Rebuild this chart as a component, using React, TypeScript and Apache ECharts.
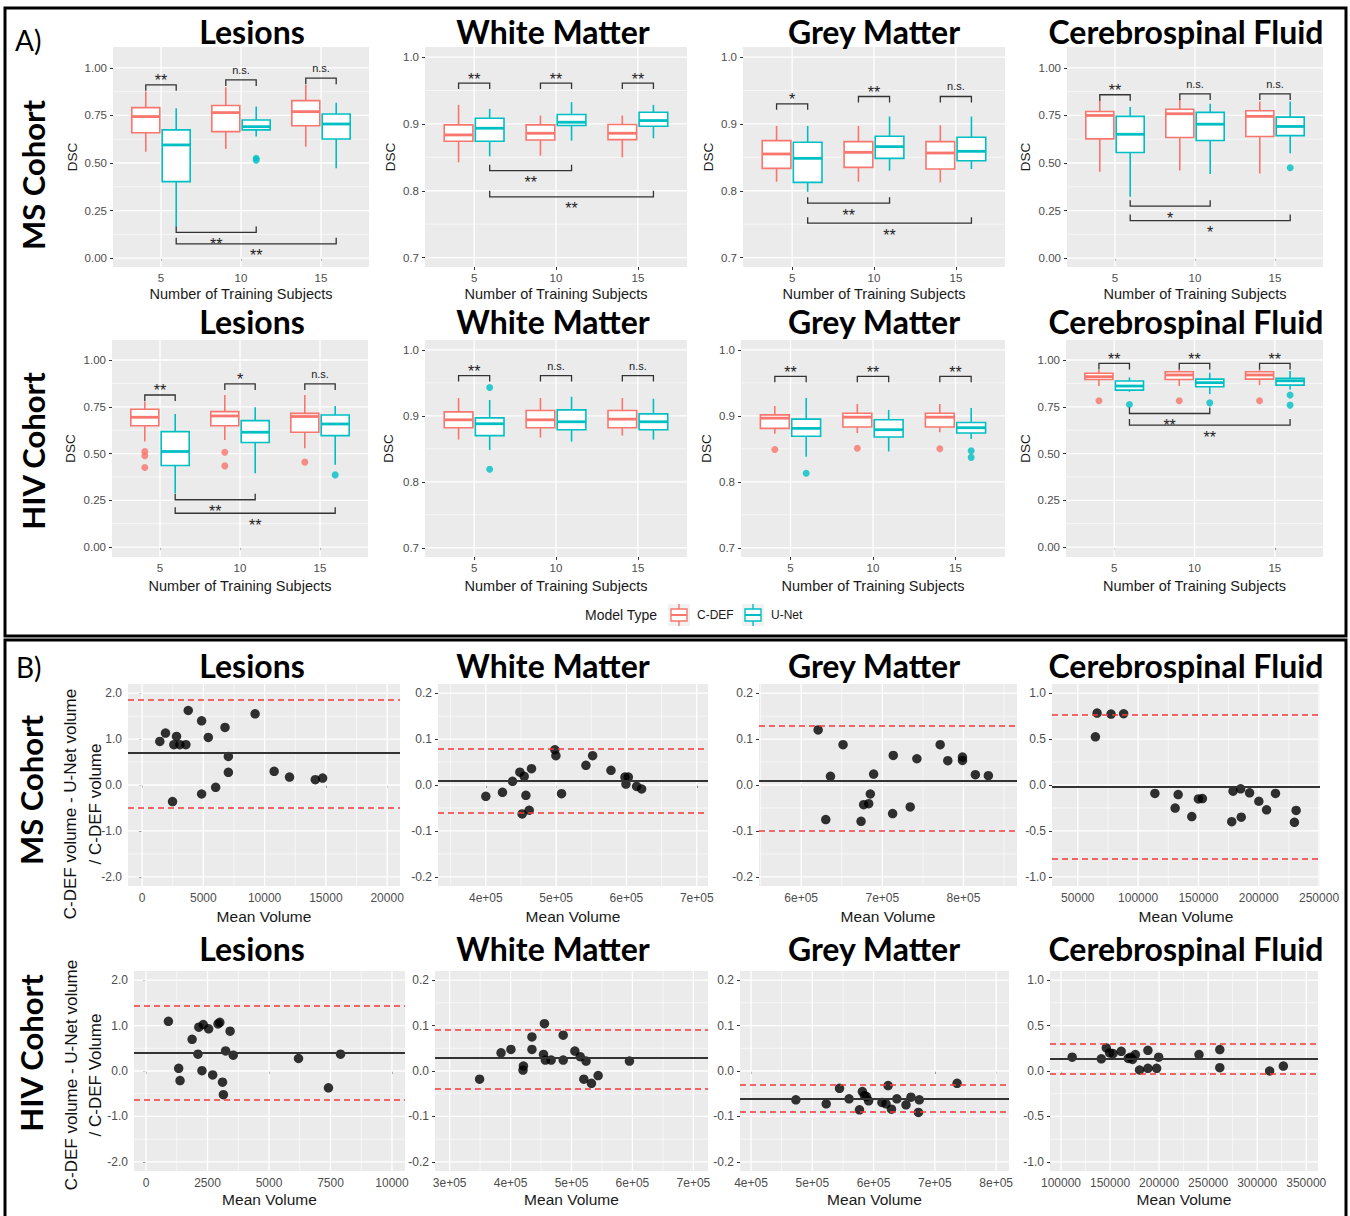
import React, { useEffect, useRef } from 'react';
import * as echarts from 'echarts';

// ---------------- shared ticks / categories ----------------
const trainSizes = [5, 10, 15];
const modelNames = ['C-DEF', 'U-Net'];
const dscTicksWide = [0, 0.25, 0.5, 0.75, 1.0];
const dscTicksNarrow = [0.7, 0.8, 0.9, 1.0];

// ---------------- A) DSC boxplots: [min, Q1, median, Q3, max] at 5 / 10 / 15 subjects ----------------
const msLesionsCdef = [[0.559, 0.659, 0.744, 0.791, 0.876], [0.574, 0.665, 0.765, 0.802, 0.898], [0.586, 0.696, 0.770, 0.828, 0.911]];
const msLesionsUnet = [[0.165, 0.402, 0.595, 0.674, 0.788], [0.639, 0.674, 0.691, 0.726, 0.797], [0.472, 0.626, 0.705, 0.758, 0.817]];
const msLesionsCdefOut: number[][] = [];
const msLesionsUnetOut = [[10, 0.525], [10, 0.515]];
const msLesionsSigY = [0.911, 0.937, 0.946];
const msLesionsSig = ['**', 'n.s.', 'n.s.'];
const msLesionsCrossY = [0.135, 0.075];
const msLesionsCross = ['**', '**'];

const msWmCdef = [[0.8425, 0.874, 0.8835, 0.8985, 0.9285], [0.8525, 0.876, 0.886, 0.8985, 0.9125], [0.85, 0.8765, 0.886, 0.899, 0.9125]];
const msWmUnet = [[0.8515, 0.874, 0.8935, 0.9085, 0.9225], [0.875, 0.8975, 0.9025, 0.914, 0.9325], [0.8785, 0.8965, 0.905, 0.9175, 0.9285]];
const msWmCdefOut: number[][] = [];
const msWmUnetOut: number[][] = [];
const msWmSigY = [0.961, 0.961, 0.961];
const msWmSig = ['**', '**', '**'];
const msWmCrossY = [0.83, 0.791];
const msWmCross = ['**', '**'];

const msGmCdef = [[0.8135, 0.8335, 0.855, 0.875, 0.897], [0.8135, 0.835, 0.8575, 0.8735, 0.897], [0.8125, 0.8325, 0.8565, 0.8735, 0.898]];
const msGmUnet = [[0.7985, 0.8125, 0.8485, 0.8725, 0.897], [0.83, 0.8485, 0.866, 0.8815, 0.911], [0.8325, 0.845, 0.859, 0.88, 0.911]];
const msGmCdefOut: number[][] = [];
const msGmUnetOut: number[][] = [];
const msGmSigY = [0.93, 0.941, 0.941];
const msGmSig = ['*', '**', 'n.s.'];
const msGmCrossY = [0.7815, 0.7515];
const msGmCross = ['**', '**'];

const msCsfCdef = [[0.454, 0.627, 0.75, 0.771, 0.833], [0.46, 0.634, 0.759, 0.783, 0.836], [0.445, 0.639, 0.745, 0.775, 0.824]];
const msCsfUnet = [[0.322, 0.555, 0.651, 0.745, 0.794], [0.442, 0.618, 0.704, 0.766, 0.812], [0.551, 0.644, 0.692, 0.741, 0.824]];
const msCsfCdefOut: number[][] = [];
const msCsfUnetOut = [[15, 0.475]];
const msCsfSigY = [0.859, 0.863, 0.863];
const msCsfSig = ['**', 'n.s.', 'n.s.'];
const msCsfCrossY = [0.273, 0.197];
const msCsfCross = ['*', '*'];

const hivLesionsCdef = [[0.564, 0.649, 0.694, 0.737, 0.778], [0.573, 0.649, 0.701, 0.724, 0.813], [0.528, 0.614, 0.698, 0.715, 0.813]];
const hivLesionsUnet = [[0.288, 0.436, 0.511, 0.617, 0.712], [0.395, 0.559, 0.614, 0.676, 0.747], [0.44, 0.596, 0.658, 0.706, 0.754]];
const hivLesionsCdefOut = [[5, 0.511], [5, 0.488], [5, 0.425], [10, 0.507], [10, 0.434], [15, 0.454]];
const hivLesionsUnetOut = [[15, 0.386]];
const hivLesionsSigY = [0.813, 0.872, 0.872];
const hivLesionsSig = ['**', '*', 'n.s.'];
const hivLesionsCrossY = [0.253, 0.181];
const hivLesionsCross = ['**', '**'];

const hivWmCdef = [[0.864, 0.882, 0.894, 0.906, 0.927], [0.867, 0.882, 0.894, 0.908, 0.927], [0.870, 0.882, 0.895, 0.908, 0.927]];
const hivWmUnet = [[0.848, 0.870, 0.888, 0.897, 0.924], [0.861, 0.879, 0.891, 0.909, 0.929], [0.864, 0.879, 0.891, 0.903, 0.926]];
const hivWmCdefOut: number[][] = [];
const hivWmUnetOut = [[5, 0.943], [5, 0.819]];
const hivWmSigY = [0.961, 0.961, 0.961];
const hivWmSig = ['**', 'n.s.', 'n.s.'];
const hivWmCrossY: number[] = [];
const hivWmCross: string[] = [];

const hivGmCdef = [[0.873, 0.881, 0.8965, 0.9015, 0.915], [0.874, 0.883, 0.898, 0.904, 0.918], [0.875, 0.883, 0.898, 0.904, 0.918]];
const hivGmUnet = [[0.838, 0.869, 0.881, 0.895, 0.927], [0.846, 0.868, 0.879, 0.894, 0.909], [0.865, 0.874, 0.882, 0.890, 0.912]];
const hivGmCdefOut = [[5, 0.849], [10, 0.851], [15, 0.85]];
const hivGmUnetOut = [[5, 0.813], [15, 0.847], [15, 0.837]];
const hivGmSigY = [0.96, 0.96, 0.96];
const hivGmSig = ['**', '**', '**'];
const hivGmCrossY: number[] = [];
const hivGmCross: string[] = [];

const hivCsfCdef = [[0.861, 0.896, 0.911, 0.929, 0.946], [0.861, 0.896, 0.92, 0.9375, 0.95], [0.866, 0.898, 0.92, 0.9375, 0.95]];
const hivCsfUnet = [[0.83, 0.839, 0.861, 0.888, 0.907], [0.818, 0.857, 0.879, 0.898, 0.932], [0.843, 0.866, 0.889, 0.902, 0.941]];
const hivCsfCdefOut = [[5, 0.782], [10, 0.782], [15, 0.782]];
const hivCsfUnetOut = [[5, 0.762], [10, 0.771], [15, 0.8125], [15, 0.759]];
const hivCsfSigY = [0.982, 0.982, 0.982];
const hivCsfSig = ['**', '**', '**'];
const hivCsfCrossY = [0.714, 0.652];
const hivCsfCross = ['**', '**'];

// ---------------- B) Bland-Altman: [mean volume, relative difference] ----------------
const msLesionsBA = [[1446, 0.949], [1910, 1.13], [2484, -0.362], [2593, 0.877], [2811, 1.058], [3084, 0.877], [3575, 0.877], [3766, 1.623], [4858, 1.399], [4858, -0.196], [5403, 1.036], [6004, -0.051], [6768, 1.254], [7041, 0.623], [7041, 0.275], [9224, 1.551], [10779, 0.297], [12035, 0.174], [14136, 0.116], [14736, 0.152]];
const msWmBA = [[400000, -0.0246], [423700, -0.016], [438000, 0.008], [448400, 0.028], [454600, 0.019], [465000, 0.0355], [457000, -0.0225], [451700, -0.063], [461700, -0.055], [498200, 0.0768], [499700, 0.0638], [507700, -0.0188], [542400, 0.0428], [551900, 0.0638], [578000, 0.0319], [597900, 0.0174], [602700, 0.0174], [599300, 0.002], [614500, -0.003], [621600, -0.0087]];
const msGmBA = [[620900, 0.12], [651600, 0.0877], [636100, 0.0188], [630300, -0.0754], [673800, -0.079], [677000, -0.0428], [683200, -0.0406], [685200, -0.0196], [689300, 0.0239], [713500, 0.0645], [712700, -0.0623], [734400, -0.0478], [742600, 0.0572], [771300, 0.0877], [780700, 0.0529], [798800, 0.0609], [798800, 0.0536], [814700, 0.0225], [830700, 0.0203]];
const msCsfBA = [[64600, 0.525], [66000, 0.784], [77550, 0.773], [88000, 0.776], [113900, -0.092], [130700, -0.251], [133200, -0.104], [144500, -0.344], [150000, -0.152], [153300, -0.148], [177600, -0.399], [178700, -0.067], [185000, -0.041], [185500, -0.351], [192400, -0.085], [200100, -0.177], [206500, -0.27], [213900, -0.092], [229600, -0.407], [231000, -0.277]];
const hivLesionsBA = [[909, 1.094], [1327, 0.058], [1382, -0.21], [1873, 0.696], [2109, 0.37], [2145, 0.964], [2273, 0.007], [2327, 1.022], [2545, 0.928], [2709, -0.087], [2927, 1.036], [3000, 1.072], [3109, -0.246], [3145, -0.522], [3236, 0.442], [3418, 0.877], [3545, 0.348], [6200, 0.275], [7418, -0.37], [7909, 0.37]];
const hivWmBA = [[349200, -0.018], [384400, 0.04], [400600, 0.0474], [421100, 0.011], [420400, 0.002], [435100, 0.075], [435100, 0.0474], [455600, 0.104], [454100, 0.0365], [457100, 0.024], [466600, 0.024], [486400, 0.0788], [486400, 0.024], [505500, 0.0438], [514300, 0.0314], [523900, 0.0219], [520200, -0.018], [532700, -0.027], [543700, -0.01], [595100, 0.0219]];
const hivGmBA = [[473200, -0.0635], [522700, -0.0723], [544400, -0.038], [560000, -0.0613], [577000, -0.0854], [581700, -0.0453], [585100, -0.054], [588500, -0.0562], [591900, -0.0657], [613600, -0.0693], [620300, -0.0723], [623700, -0.0321], [629200, -0.0839], [638000, -0.0613], [652900, -0.0745], [661000, -0.0577], [673200, -0.0912], [674600, -0.0635], [736300, -0.027]];
const hivCsfBA = [[111400, 0.152], [141100, 0.134], [146200, 0.254], [149600, 0.199], [153000, 0.192], [161400, 0.217], [168600, 0.138], [170800, 0.152], [172900, 0.127], [175800, 0.181], [180100, 0.011], [188600, 0.228], [188600, 0.029], [197500, 0.029], [199600, 0.152], [240700, 0.181], [261900, 0.236], [261900, 0.036], [312700, 0.0], [326700, 0.054]];

// [mean difference, upper limit, lower limit]
const msLesionsLoA = [0.696, 1.855, -0.486];
const msWmLoA = [0.0101, 0.0826, -0.063];
const msGmLoA = [0.0138, 0.1297, -0.1043];
const msCsfLoA = [-0.0185, 0.758, -0.795];
const hivLesionsLoA = [0.406, 1.442, -0.63];
const hivWmLoA = [0.0277, 0.0934, -0.0387];
const hivGmLoA = [-0.0613, -0.0292, -0.0942];
const hivCsfLoA = [0.138, 0.297, -0.025];

// axis ticks for B
const baLesionsYTicks = [-2, -1, 0, 1, 2];
const baTissueYTicks = [-0.2, -0.1, 0, 0.1, 0.2];
const baCsfYTicks = [-1, -0.5, 0, 0.5, 1];
const msLesionsXTicks = [0, 5000, 10000, 15000, 20000];
const msWmXTicks = [400000, 500000, 600000, 700000];
const msGmXTicks = [600000, 700000, 800000];
const msCsfXTicks = [50000, 100000, 150000, 200000, 250000];
const hivLesionsXTicks = [0, 2500, 5000, 7500, 10000];
const hivWmXTicks = [300000, 400000, 500000, 600000, 700000];
const hivGmXTicks = [400000, 500000, 600000, 700000, 800000];
const hivCsfXTicks = [100000, 150000, 200000, 250000, 300000, 350000];

const panelTitles = ['Lesions', 'White Matter', 'Grey Matter', 'Cerebrospinal Fluid'];

// ---------------- style / layout ----------------
const FONT = "'Liberation Sans', Arial, sans-serif";
const HEAD = "Lato, 'Open Sans', sans-serif";
const RED = '#F8766D';
const TEAL = '#00BFC4';
const PANEL_BG = '#EBEBEB';
const DODGE = 0.95;
const BOX_W = 1.75;
const TITLE_X = [252, 553, 874, 1186];

const fmt2 = (v: number) => v.toFixed(2);
const fmt1 = (v: number) => v.toFixed(1);
const fmtPlain = (v: number) => String(Math.round(v));
const fmtSci = (v: number) => `${Math.round(v / 1e5)}e+05`;

const boxPanels = [
  { rect: [113, 47, 256, 220], y: [-0.047, 1.11], ticks: dscTicksWide, fmt: fmt2, cdef: msLesionsCdef, unet: msLesionsUnet, cdefOut: msLesionsCdefOut, unetOut: msLesionsUnetOut, sigY: msLesionsSigY, sig: msLesionsSig, crossY: msLesionsCrossY, cross: msLesionsCross, dscX: 72 },
  { rect: [425, 47, 262, 220], y: [0.686, 1.015], ticks: dscTicksNarrow, fmt: fmt1, cdef: msWmCdef, unet: msWmUnet, cdefOut: msWmCdefOut, unetOut: msWmUnetOut, sigY: msWmSigY, sig: msWmSig, crossY: msWmCrossY, cross: msWmCross, dscX: 390 },
  { rect: [743, 47, 262, 220], y: [0.686, 1.015], ticks: dscTicksNarrow, fmt: fmt1, cdef: msGmCdef, unet: msGmUnet, cdefOut: msGmCdefOut, unetOut: msGmUnetOut, sigY: msGmSigY, sig: msGmSig, crossY: msGmCrossY, cross: msGmCross, dscX: 708 },
  { rect: [1067, 47, 256, 220], y: [-0.047, 1.11], ticks: dscTicksWide, fmt: fmt2, cdef: msCsfCdef, unet: msCsfUnet, cdefOut: msCsfCdefOut, unetOut: msCsfUnetOut, sigY: msCsfSigY, sig: msCsfSig, crossY: msCsfCrossY, cross: msCsfCross, dscX: 1025 },
  { rect: [112, 340, 256, 217], y: [-0.053, 1.107], ticks: dscTicksWide, fmt: fmt2, cdef: hivLesionsCdef, unet: hivLesionsUnet, cdefOut: hivLesionsCdefOut, unetOut: hivLesionsUnetOut, sigY: hivLesionsSigY, sig: hivLesionsSig, crossY: hivLesionsCrossY, cross: hivLesionsCross, dscX: 70 },
  { rect: [425, 340, 262, 217], y: [0.686, 1.015], ticks: dscTicksNarrow, fmt: fmt1, cdef: hivWmCdef, unet: hivWmUnet, cdefOut: hivWmCdefOut, unetOut: hivWmUnetOut, sigY: hivWmSigY, sig: hivWmSig, crossY: hivWmCrossY, cross: hivWmCross, dscX: 388 },
  { rect: [741, 340, 264, 217], y: [0.686, 1.015], ticks: dscTicksNarrow, fmt: fmt1, cdef: hivGmCdef, unet: hivGmUnet, cdefOut: hivGmCdefOut, unetOut: hivGmUnetOut, sigY: hivGmSigY, sig: hivGmSig, crossY: hivGmCrossY, cross: hivGmCross, dscX: 706 },
  { rect: [1066, 340, 257, 217], y: [-0.053, 1.107], ticks: dscTicksWide, fmt: fmt2, cdef: hivCsfCdef, unet: hivCsfUnet, cdefOut: hivCsfCdefOut, unetOut: hivCsfUnetOut, sigY: hivCsfSigY, sig: hivCsfSig, crossY: hivCsfCrossY, cross: hivCsfCross, dscX: 1025 },
];

const baPanels = [
  { rect: [128, 684, 272, 202], x: [-1150, 21050], y: [-2.2, 2.2], xTicks: msLesionsXTicks, yTicks: baLesionsYTicks, xFmt: fmtPlain, pts: msLesionsBA, loa: msLesionsLoA },
  { rect: [438, 684, 270, 202], x: [332000, 716000], y: [-0.22, 0.22], xTicks: msWmXTicks, yTicks: baTissueYTicks, xFmt: fmtSci, pts: msWmBA, loa: msWmLoA },
  { rect: [759, 684, 258, 202], x: [548000, 866000], y: [-0.22, 0.22], xTicks: msGmXTicks, yTicks: baTissueYTicks, xFmt: fmtSci, pts: msGmBA, loa: msGmLoA },
  { rect: [1052, 684, 268, 202], x: [28600, 250800], y: [-1.1, 1.1], xTicks: msCsfXTicks, yTicks: baCsfYTicks, xFmt: fmtPlain, pts: msCsfBA, loa: msCsfLoA },
  { rect: [134, 971, 271, 200], x: [-490, 10530], y: [-2.2, 2.2], xTicks: hivLesionsXTicks, yTicks: baLesionsYTicks, xFmt: fmtPlain, pts: hivLesionsBA, loa: hivLesionsLoA },
  { rect: [435, 971, 273, 200], x: [276000, 724000], y: [-0.22, 0.22], xTicks: hivWmXTicks, yTicks: baTissueYTicks, xFmt: fmtSci, pts: hivWmBA, loa: hivWmLoA },
  { rect: [740, 971, 269, 200], x: [382000, 821000], y: [-0.22, 0.22], xTicks: hivGmXTicks, yTicks: baTissueYTicks, xFmt: fmtSci, pts: hivGmBA, loa: hivGmLoA },
  { rect: [1050, 971, 268, 200], x: [88800, 362000], y: [-1.1, 1.1], xTicks: hivCsfXTicks, yTicks: baCsfYTicks, xFmt: fmtPlain, pts: hivCsfBA, loa: hivCsfLoA },
];

// minor grid positions: midpoints between major ticks (and half a step beyond), inside the range
function minorsOf(majors: number[], min: number, max: number) {
  if (majors.length < 2) return [];
  const step = majors[1] - majors[0];
  const out: number[] = [];
  const cands = [majors[0] - step / 2, ...majors.map((m) => m + step / 2)];
  cands.forEach((c) => { if (c > min && c < max) out.push(+c.toFixed(6)); });
  return out;
}

function makeAxis(gridIndex: number, min: number, max: number, ticks: number[], fmt: any, fontSize: number, margin: number) {
  return {
    type: 'value', gridIndex, min, max,
    axisLine: { show: false },
    splitLine: { show: false },
    minorSplitLine: { show: false },
    axisTick: { show: true, customValues: ticks, length: 3, lineStyle: { color: '#333', width: 1 } },
    axisLabel: { show: true, customValues: ticks, formatter: fmt, color: '#4D4D4D', fontSize, fontFamily: FONT, margin },
  };
}

function gridLineSeries(i: number, xr: number[], yr: number[], xMaj: number[], xMin: number[], yMaj: number[], yMin: number[]) {
  const data = [
    ...yMaj.map((v) => [0, v, 1]), ...yMin.map((v) => [0, v, 0]),
    ...xMaj.map((v) => [1, v, 1]), ...xMin.map((v) => [1, v, 0]),
  ];
  return {
    type: 'custom', xAxisIndex: i, yAxisIndex: i, silent: true, z: 1, data,
    encode: { x: 1, y: 1 },
    renderItem: (params: any, api: any) => {
      const cs = params.coordSys;
      const o = api.value(0), v = api.value(1), major = api.value(2);
      const lw = major ? 1.3 : 0.6;
      if (o === 0) {
        const y = api.coord([xr[0], v])[1];
        return { type: 'line', shape: { x1: cs.x, y1: y, x2: cs.x + cs.width, y2: y }, style: { stroke: '#fff', lineWidth: lw } };
      }
      const x = api.coord([v, yr[0]])[0];
      return { type: 'line', shape: { x1: x, y1: cs.y, x2: x, y2: cs.y + cs.height }, style: { stroke: '#fff', lineWidth: lw } };
    },
  };
}

function boxRenderer(color: string, shift: number) {
  return (params: any, api: any) => {
    const x = api.value(0) + shift;
    const pLo = api.coord([x, api.value(1)]);
    const pQ1 = api.coord([x, api.value(2)]);
    const pMed = api.coord([x, api.value(3)]);
    const pQ3 = api.coord([x, api.value(4)]);
    const pHi = api.coord([x, api.value(5)]);
    const hw = api.size([BOX_W, 0])[0] / 2;
    const ls = { stroke: color, lineWidth: 1.6 };
    return {
      type: 'group',
      children: [
        { type: 'line', shape: { x1: pLo[0], y1: pLo[1], x2: pQ1[0], y2: pQ1[1] }, style: ls },
        { type: 'line', shape: { x1: pQ3[0], y1: pQ3[1], x2: pHi[0], y2: pHi[1] }, style: ls },
        { type: 'rect', shape: { x: pQ3[0] - hw, y: pQ3[1], width: hw * 2, height: pQ1[1] - pQ3[1] }, style: { fill: '#fff', stroke: color, lineWidth: 1.6 } },
        { type: 'line', shape: { x1: pMed[0] - hw, y1: pMed[1], x2: pMed[0] + hw, y2: pMed[1] }, style: { stroke: color, lineWidth: 2.8 } },
      ],
    };
  };
}

function textStyle(text: string, font: string, align: string, vAlign: string, fill = '#111') {
  return { text, font, fill, align, verticalAlign: vAlign, textAlign: align, textVerticalAlign: vAlign };
}

function bracketRenderer(labels: string[]) {
  return (params: any, api: any) => {
    const a = api.coord([api.value(0), api.value(2)]);
    const b = api.coord([api.value(1), api.value(2)]);
    const dir = api.value(3);
    const tick = 6 * dir;
    const label = labels[params.dataIndex];
    const star = label.indexOf('*') >= 0;
    const cx = (a[0] + b[0]) / 2;
    let ty: number;
    if (dir > 0) ty = star ? a[1] - 4 : a[1] - 10;
    else ty = a[1] + 12;
    const font = star ? `16px ${FONT}` : `11px ${FONT}`;
    return {
      type: 'group',
      children: [
        { type: 'polyline', shape: { points: [[a[0], a[1] + tick], [a[0], a[1]], [b[0], b[1]], [b[0], b[1] + tick]] }, style: { stroke: '#333', lineWidth: 1.3, fill: 'none' } },
        { type: 'text', x: cx, y: ty, style: textStyle(label, font, 'center', 'middle', '#222') },
      ],
    };
  };
}

function gText(text: string, x: number, y: number, font: string, opts: any = {}) {
  return {
    type: 'text', x, y, rotation: opts.rot || 0, silent: true, z: 10,
    style: textStyle(text, font, opts.align || 'center', 'middle', opts.fill || '#111'),
  };
}

function buildOption() {
  const grid: any[] = [];
  const xAxis: any[] = [];
  const yAxis: any[] = [];
  const series: any[] = [];
  const graphic: any[] = [];

  // ---- section A ----
  boxPanels.forEach((p, i) => {
    const [l, t, w, h] = p.rect;
    grid.push({ left: l, top: t, width: w, height: h, show: true, backgroundColor: PANEL_BG, borderWidth: 0 });
    xAxis.push(makeAxis(i, 2, 18, trainSizes, fmtPlain, 11.5, 5));
    yAxis.push(makeAxis(i, p.y[0], p.y[1], p.ticks, p.fmt, 11.5, 6));
    series.push(gridLineSeries(i, [2, 18], p.y, trainSizes, [], p.ticks, minorsOf(p.ticks, p.y[0], p.y[1])));
    series.push({
      type: 'custom', name: modelNames[0], xAxisIndex: i, yAxisIndex: i, z: 3, silent: true,
      data: trainSizes.map((s, k) => [s, ...p.cdef[k]]), encode: { x: 0, y: [1, 2, 3, 4, 5] },
      renderItem: boxRenderer(RED, -DODGE),
    });
    series.push({
      type: 'custom', name: modelNames[1], xAxisIndex: i, yAxisIndex: i, z: 3, silent: true,
      data: trainSizes.map((s, k) => [s, ...p.unet[k]]), encode: { x: 0, y: [1, 2, 3, 4, 5] },
      renderItem: boxRenderer(TEAL, DODGE),
    });
    series.push({
      type: 'scatter', xAxisIndex: i, yAxisIndex: i, z: 4, silent: true, symbolSize: 7,
      itemStyle: { color: RED }, data: p.cdefOut.map(([s, v]) => [s - DODGE, v]),
    });
    series.push({
      type: 'scatter', xAxisIndex: i, yAxisIndex: i, z: 4, silent: true, symbolSize: 7,
      itemStyle: { color: TEAL }, data: p.unetOut.map(([s, v]) => [s + DODGE, v]),
    });
    const within = trainSizes.map((s, k) => [s - DODGE, s + DODGE, p.sigY[k], 1]);
    const crossD = p.crossY.map((y, k) => [trainSizes[0] + DODGE, trainSizes[k + 1] + DODGE, y, -1]);
    series.push({
      type: 'custom', xAxisIndex: i, yAxisIndex: i, z: 5, silent: true,
      data: [...within, ...crossD], encode: { x: [0, 1], y: 2 },
      renderItem: bracketRenderer([...p.sig, ...p.cross]),
    });
    // axis titles
    graphic.push(gText('DSC', p.dscX, t + h / 2, `13.5px ${FONT}`, { rot: Math.PI / 2, fill: '#1a1a1a' }));
    graphic.push(gText('Number of Training Subjects', l + w / 2, i < 4 ? 294 : 586, `14.5px ${FONT}`, { fill: '#1a1a1a' }));
  });

  // ---- section B ----
  baPanels.forEach((p, j) => {
    const i = j + boxPanels.length;
    const [l, t, w, h] = p.rect;
    grid.push({ left: l, top: t, width: w, height: h, show: true, backgroundColor: PANEL_BG, borderWidth: 0 });
    xAxis.push(makeAxis(i, p.x[0], p.x[1], p.xTicks, p.xFmt, 12, 6));
    yAxis.push(makeAxis(i, p.y[0], p.y[1], p.yTicks, fmt1, 12, 6));
    series.push(gridLineSeries(i, p.x, p.y, p.xTicks, minorsOf(p.xTicks, p.x[0], p.x[1]), p.yTicks, minorsOf(p.yTicks, p.y[0], p.y[1])));
    series.push({
      type: 'scatter', xAxisIndex: i, yAxisIndex: i, z: 3, silent: true, symbolSize: 9.5,
      itemStyle: { color: '#000' }, data: p.pts,
      markLine: {
        silent: true, symbol: ['none', 'none'], label: { show: false },
        data: [
          { yAxis: p.loa[0], lineStyle: { color: '#333', type: 'solid', width: 1.8 } },
          { yAxis: p.loa[1], lineStyle: { color: '#F23A3A', type: [6, 4], width: 1.6 } },
          { yAxis: p.loa[2], lineStyle: { color: '#F23A3A', type: [6, 4], width: 1.6 } },
        ],
      },
    });
    graphic.push(gText('Mean Volume', l + w / 2, j < 4 ? 916 : 1199, `15.5px ${FONT}`, { fill: '#1a1a1a' }));
  });

  // ---- titles ----
  [31, 321, 665, 948].forEach((ty) => {
    panelTitles.forEach((name, k) => graphic.push(gText(name, TITLE_X[k], ty, `bold 32px ${HEAD}`, { fill: '#000' })));
  });

  // ---- section labels and cohort labels ----
  graphic.push(gText('A)', 15, 40, `28px ${HEAD}`, { align: 'left', fill: '#000' }));
  graphic.push(gText('B)', 16, 667, `28px ${HEAD}`, { align: 'left', fill: '#000' }));
  graphic.push(gText('MS Cohort', 33, 175, `bold 31px ${HEAD}`, { rot: Math.PI / 2, fill: '#000' }));
  graphic.push(gText('HIV Cohort', 33, 451, `bold 31px ${HEAD}`, { rot: Math.PI / 2, fill: '#000' }));
  graphic.push(gText('MS Cohort', 31, 790, `bold 31px ${HEAD}`, { rot: Math.PI / 2, fill: '#000' }));
  graphic.push(gText('HIV Cohort', 31, 1053, `bold 31px ${HEAD}`, { rot: Math.PI / 2, fill: '#000' }));

  // ---- B y-axis titles ----
  graphic.push(gText('C-DEF volume - U-Net volume', 70, 804, `17px ${FONT}`, { rot: Math.PI / 2, fill: '#111' }));
  graphic.push(gText('/ C-DEF volume', 95, 804, `17px ${FONT}`, { rot: Math.PI / 2, fill: '#111' }));
  graphic.push(gText('C-DEF volume - U-Net volume', 71, 1075, `17px ${FONT}`, { rot: Math.PI / 2, fill: '#111' }));
  graphic.push(gText('/ C-DEF Volume', 95, 1075, `17px ${FONT}`, { rot: Math.PI / 2, fill: '#111' }));

  // ---- legend ----
  graphic.push(gText('Model Type', 585, 615, `14px ${FONT}`, { align: 'left', fill: '#1a1a1a' }));
  [[668, RED, modelNames[0]], [742, TEAL, modelNames[1]]].forEach(([x0, col, name]: any) => {
    graphic.push({ type: 'rect', silent: true, shape: { x: x0, y: 604, width: 22, height: 22 }, style: { fill: '#F2F2F2' } });
    graphic.push({ type: 'line', silent: true, shape: { x1: x0 + 11, y1: 604, x2: x0 + 11, y2: 626 }, style: { stroke: col, lineWidth: 1.4 } });
    graphic.push({ type: 'rect', silent: true, shape: { x: x0 + 3, y: 609, width: 16, height: 12 }, style: { fill: '#fff', stroke: col, lineWidth: 1.4 } });
    graphic.push({ type: 'line', silent: true, shape: { x1: x0 + 3, y1: 615, x2: x0 + 19, y2: 615 }, style: { stroke: col, lineWidth: 2 } });
    graphic.push(gText(name, x0 + 29, 615, `12px ${FONT}`, { align: 'left', fill: '#1a1a1a' }));
  });

  // ---- frames ----
  graphic.push({ type: 'rect', silent: true, shape: { x: 5, y: 8, width: 1341, height: 628 }, style: { fill: 'none', stroke: '#000', lineWidth: 3 } });
  graphic.push({ type: 'rect', silent: true, shape: { x: 5, y: 640, width: 1341, height: 590 }, style: { fill: 'none', stroke: '#000', lineWidth: 3 } });

  return {
    animation: false,
    backgroundColor: '#fff',
    grid, xAxis, yAxis, series,
    graphic: { elements: graphic },
  };
}

export default function App() {
  const ref = useRef<HTMLDivElement>(null);
  useEffect(() => {
    const chart = echarts.init(ref.current as HTMLDivElement, null, { renderer: 'svg', width: 1350, height: 1216 });
    chart.setOption(buildOption() as any);
    return () => chart.dispose();
  }, []);
  return <div ref={ref} style={{ position: 'fixed', left: 0, top: 0, width: 1350, height: 1216, background: '#fff' }} />;
}
